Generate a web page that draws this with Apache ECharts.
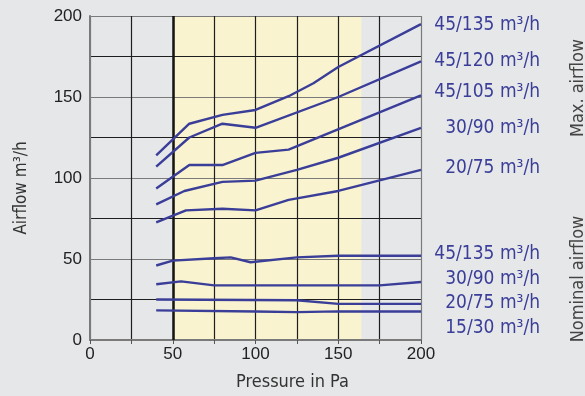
<!DOCTYPE html>
<html>
<head>
<meta charset="utf-8">
<script src="https://cdn.jsdelivr.net/npm/echarts@6/dist/echarts.min.js"></script>
<style>
  html, body { margin: 0; padding: 0; background: #e6e7e9; }
  #chart { width: 585px; height: 396px; }
</style>
</head>
<body>
<div id="chart"></div>
<script>
// curves, [pressure Pa, airflow m3/h]
var max135 = [[40, 114], [60, 133.5], [80, 139], [100, 142], [120, 150.5], [135, 158.5], [150, 168.5], [200, 195]];
var max120 = [[40, 107], [60, 125], [80, 133.5], [100, 131], [150, 150], [200, 172]];
var max105 = [[40, 93.5], [60, 108], [80, 108], [100, 115.5], [120, 117.5], [200, 151]];
var max90 = [[40, 83.7], [57, 92], [80, 97.6], [100, 98.4], [125, 105], [150, 112.5], [200, 131]];
var max75 = [[40, 72.6], [58, 80], [80, 81], [100, 80], [120, 86.5], [150, 92], [200, 105]];
var nom135 = [[40, 46], [50, 49], [75, 50.5], [85, 51], [97, 48], [125, 51], [150, 52], [200, 52]];
var nom90 = [[40, 34.4], [55, 36.2], [75, 33.7], [175, 33.7], [200, 35.8]];
var nom75 = [[40, 25], [125, 24.5], [150, 22.3], [200, 22.3]];
var nom30 = [[40, 18.3], [100, 17.6], [125, 17.2], [150, 17.7], [200, 17.6]];

var curves = [max135, max120, max105, max90, max75, nom135, nom90, nom75, nom30];
var curveNames = ['45/135 m³/h', '45/120 m³/h', '45/105 m³/h', '30/90 m³/h', '20/75 m³/h',
                  '45/135 m³/h', '30/90 m³/h', '20/75 m³/h', '15/30 m³/h'];
var labelMid = [25, 61, 92, 128, 168, 254, 279, 303, 328];
var yellowBand = [50, 164];

var blue = '#3a3e98';

var series = curves.map(function (d, i) {
    return {
        name: curveNames[i],
        type: 'line',
        data: d,
        symbol: 'none',
        silent: true,
        lineStyle: { color: blue, width: 2.4 },
        z: 5
    };
});
series[0].markLine = {
    silent: true,
    symbol: 'none',
    label: { show: false },
    lineStyle: { color: '#151515', width: 2.5, type: 'solid' },
    data: [{ xAxis: 50 }]
};
// yellow band, kept under the grid lines
series.push({
    type: 'line',
    data: [],
    silent: true,
    z: 0,
    markArea: {
        silent: true,
        z: 0,
        itemStyle: { color: '#f9f3cf' },
        data: [[{ xAxis: yellowBand[0] }, { xAxis: yellowBand[1] }]]
    }
});

var graphics = curveNames.map(function (t, i) {
    return {
        type: 'text',
        x: 540,
        y: labelMid[i],
        style: { text: t, fill: blue, font: '19px "DejaVu Sans Condensed"', textAlign: 'right', textVerticalAlign: 'middle' }
    };
});
graphics.push({
    type: 'text', x: 578, y: 88, rotation: Math.PI / 2,
    style: { text: 'Max. airflow', fill: '#444', font: '18px "DejaVu Sans Condensed"', textAlign: 'center', textVerticalAlign: 'middle' }
});
graphics.push({
    type: 'text', x: 578, y: 279, rotation: Math.PI / 2,
    style: { text: 'Nominal airflow', fill: '#444', font: '18px "DejaVu Sans Condensed"', textAlign: 'center', textVerticalAlign: 'middle' }
});

var chart = echarts.init(document.getElementById('chart'));
chart.setOption({
    backgroundColor: '#e6e7e9',
    animation: false,
    grid: { left: 90, right: 164, top: 16, bottom: 52, containLabel: false },
    xAxis: {
        type: 'value', min: 0, max: 200, interval: 25, z: 3,
        name: 'Pressure in Pa', nameLocation: 'middle', nameGap: 33,
        nameTextStyle: { color: '#333', fontSize: 18, fontFamily: 'DejaVu Sans Condensed', padding: [0, 0, 0, 74] },
        axisLine: { show: true, onZero: false, lineStyle: { color: '#7a7a7a', width: 2 } },
        axisTick: { show: true, length: 4, lineStyle: { color: '#555' } },
        axisLabel: {
            color: '#222', fontSize: 17, fontFamily: 'Liberation Sans', margin: 6,
            formatter: function (v) { return v % 50 === 0 ? v : ''; }
        },
        splitLine: { show: true, lineStyle: { color: ['#7a7a7a', '#1e1e1e', '#1e1e1e', '#1e1e1e', '#1e1e1e', '#1e1e1e', '#1e1e1e', '#1e1e1e', '#7a7a7a'], width: 1.2 } }
    },
    yAxis: {
        type: 'value', min: 0, max: 200, interval: 25, z: 3,
        name: 'Airflow m³/h', nameLocation: 'middle', nameGap: 60, nameRotate: 90,
        nameTextStyle: { color: '#333', fontSize: 17, fontFamily: 'DejaVu Sans Condensed', padding: [0, 20, 0, 0] },
        axisLine: { show: true, lineStyle: { color: '#7a7a7a', width: 2 } },
        axisTick: { show: false },
        axisLabel: {
            color: '#222', fontSize: 17, fontFamily: 'Liberation Sans', margin: 8,
            formatter: function (v) { return v % 50 === 0 ? v : ''; }
        },
        splitLine: { show: true, lineStyle: { color: ['#7a7a7a', '#1e1e1e'], width: 1.2 } }
    },
    series: series,
    graphic: graphics
});
</script>
</body>
</html>
